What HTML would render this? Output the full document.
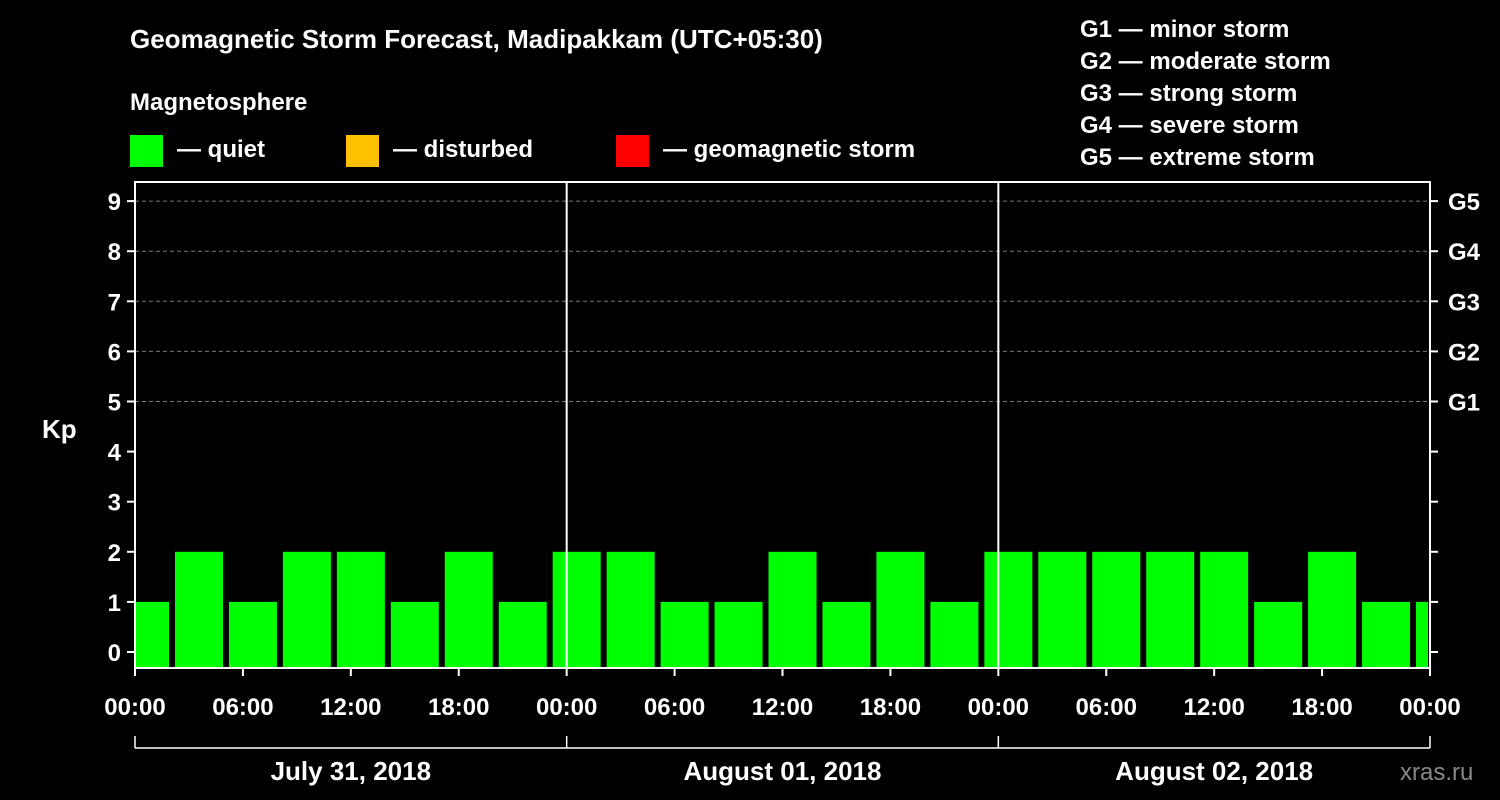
<!DOCTYPE html>
<html><head><meta charset="utf-8"><style>
html,body{margin:0;padding:0;background:#000;}
svg{display:block;font-family:"Liberation Sans",Arial,sans-serif;font-weight:bold;}
</style></head><body>
<svg id="chart" width="1500" height="800" viewBox="0 0 1500 800">
<rect x="0" y="0" width="1500" height="800" fill="#000"/>
<text x="130" y="48" fill="#fff" font-size="26">Geomagnetic Storm Forecast, Madipakkam (UTC+05:30)</text>
<text x="130" y="110" fill="#fff" font-size="24">Magnetosphere</text>
<rect x="130" y="135" width="33" height="32" fill="#00ff00"/>
<text x="177" y="157" fill="#fff" font-size="24">— quiet</text>
<rect x="346" y="135" width="33" height="32" fill="#ffc000"/>
<text x="393" y="157" fill="#fff" font-size="24">— disturbed</text>
<rect x="616" y="135" width="33" height="32" fill="#ff0000"/>
<text x="663" y="157" fill="#fff" font-size="24">— geomagnetic storm</text>
<g fill="#fff" font-size="24">
<text x="1080" y="37">G1 — minor storm</text>
<text x="1080" y="69">G2 — moderate storm</text>
<text x="1080" y="101">G3 — strong storm</text>
<text x="1080" y="133">G4 — severe storm</text>
<text x="1080" y="165">G5 — extreme storm</text>
</g>
<text x="42" y="438" fill="#fff" font-size="26">Kp</text>
<text x="1400" y="780" fill="#888" font-size="24" font-weight="normal">xras.ru</text>
<g id="plot"></g>
</svg>
<script>
const values = [1,2,1,2,2,1,2,1,2,2,1,1,2,1,2,1,2,2,2,2,2,1,2,1,1];
const yTicks = [0,1,2,3,4,5,6,7,8,9];
const gLabels = ["G1","G2","G3","G4","G5"];
const xLabels = ["00:00","06:00","12:00","18:00","00:00","06:00","12:00","18:00","00:00","06:00","12:00","18:00","00:00"];
const dayLabels = ["July 31, 2018","August 01, 2018","August 02, 2018"];

const L=135,R=1430,T=182,B=668;
const hourPx=(R-L)/72;
const firstSlotStartHour=-0.833; // offset of slot grid (UTC+05:30)
const y=v=>652-v*50.1;
const x=h=>L+h*hourPx;
const NS="http://www.w3.org/2000/svg";
const svg=document.getElementById('plot');
function el(tag,attrs,parent){const e=document.createElementNS(NS,tag);for(const k in attrs)e.setAttribute(k,attrs[k]);(parent||svg).appendChild(e);return e;}

// grid lines
for(let k=5;k<=9;k++){
  const g=el('line',{x1:L,x2:R,y1:y(k),y2:y(k),stroke:'#777','stroke-dasharray':'4,3','stroke-width':1});
  
  
}
// bars
values.forEach((v,i)=>{
  let x0=x(firstSlotStartHour+i*3)+1, x1=x0+48;
  x0=Math.max(x0,L+1); x1=Math.min(x1,R-2);
  const r=el('rect',{x:x0,y:y(v),width:x1-x0,height:B-y(v),fill:v>=5?'#ff0000':(v>=4?'#ffc000':'#00ff00')});
  
  
});
// day separators
for(let d=1;d<3;d++){
  const s=el('line',{x1:x(d*24),x2:x(d*24),y1:T,y2:B,stroke:'#fff','stroke-width':2});
  
  
}
// frame
const f=el('rect',{x:L,y:T,width:R-L,height:B-T,fill:'none',stroke:'#fff','stroke-width':2});


// y ticks
yTicks.forEach(v=>{
  el('line',{x1:L-8,x2:L,y1:y(v),y2:y(v),stroke:'#fff','stroke-width':2});
  el('line',{x1:R,x2:R+8,y1:y(v),y2:y(v),stroke:'#fff','stroke-width':2});
  const t=el('text',{x:L-14,y:y(v)+9,fill:'#fff','font-size':24,'text-anchor':'end'});
  t.textContent=v;
  
  
});
gLabels.forEach((g,i)=>{
  const t=el('text',{x:R+18,y:y(5+i)+9,fill:'#fff','font-size':24});
  t.textContent=g;
  
  
});
// x ticks
xLabels.forEach((lab,i)=>{
  const xx=x(i*6);
  el('line',{x1:xx,x2:xx,y1:B,y2:B+8,stroke:'#fff','stroke-width':2});
  const t=el('text',{x:xx,y:715,fill:'#fff','font-size':24,'text-anchor':'middle'});
  t.textContent=lab;
  
  
});
// day bracket
el('line',{x1:L,x2:R,y1:748,y2:748,stroke:'#fff','stroke-width':1.5});
for(let d=0;d<=3;d++) el('line',{x1:x(d*24),x2:x(d*24),y1:736,y2:748,stroke:'#fff','stroke-width':1.5});
dayLabels.forEach((lab,d)=>{
  const t=el('text',{x:x(d*24+12),y:780,fill:'#fff','font-size':26,'text-anchor':'middle'});
  t.textContent=lab;
  
  
});
</script>
</body></html>
